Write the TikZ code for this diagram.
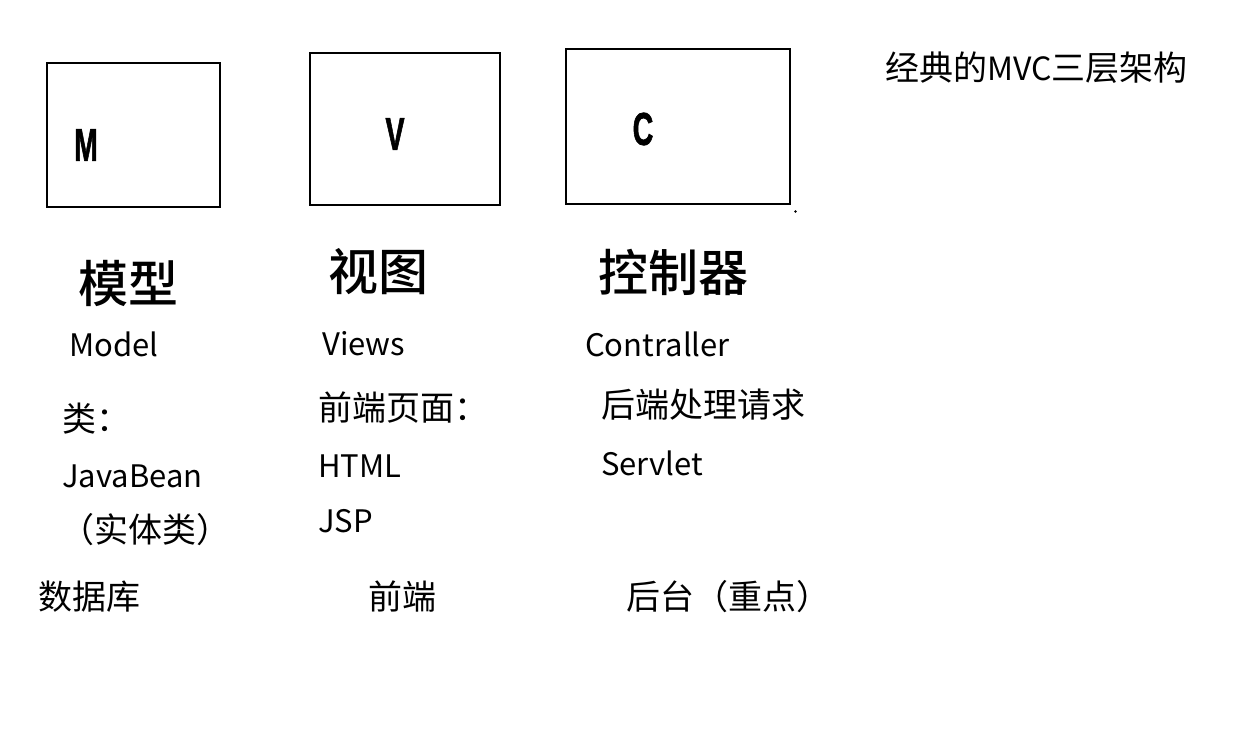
\documentclass[tikz,border=0pt]{standalone}
\usepackage{fontspec}
\setmainfont{Liberation Sans}
\newfontfamily\cjk{Noto Sans CJK SC}
\newfontfamily\cjkm{Noto Sans CJK SC Medium}
\newfontfamily\lsb[FakeBold=1.8]{Liberation Sans Bold}
\begin{document}
\begin{tikzpicture}[x=1pt,y=-1pt,
  box/.style={draw=black,line width=2.5pt},
  letter/.style={inner sep=0pt,font=\lsb\fontsize{46}{50}\selectfont},
  big/.style={inner sep=0pt,anchor=west,font=\cjkm\fontsize{50}{56}\selectfont},
  txt/.style={inner sep=0pt,anchor=west,font=\cjk\fontsize{34}{40}\selectfont},
  lat/.style={inner sep=0pt,anchor=west,font=\cjk\fontsize{31}{37}\selectfont}]
\useasboundingbox (0,0) rectangle (1233,747);
\fill[white] (0,0) rectangle (1233,747);
\draw[box] (47,63) rectangle (220,207);
\draw[box] (310,53) rectangle (500,205);
\draw[box] (566,49) rectangle (790,204);
\fill[black] (795.5,211.5) circle (1.3pt);
\node[letter] (m) at (86,145) {\scalebox{0.62}[1]{M}};
\node[letter] (v) at (395,134) {\scalebox{0.62}[1]{V}};
\node[letter] (c) at (643,129) {\scalebox{0.62}[1]{C}};
\node[txt] (title) at (885,68) {经典的{\fontsize{32}{36}\selectfont MVC}三层架构};
\node[big] (mx) at (78,283) {模型};
\node[big] (vt) at (328,272) {视图};
\node[big] (kz) at (598,272) {控制器};
\node[lat] (model) at (69,344) {Model};
\node[lat] (views) at (322,344) {Views};
\node[lat] (contr) at (585,344) {Contraller};
\node[txt] (lei) at (62,419) {类：};
\node[txt] (qd) at (318,408) {前端页面：};
\node[txt] (hd) at (601,405) {后端处理请求};
\node[lat] (jb) at (62,476) {JavaBean};
\node[lat] (html) at (318,466) {HTML};
\node[lat] (serv) at (601,463) {Servlet};
\node[txt] (stl) at (60,530) {（实体类）};
\node[lat] (jsp) at (318,521) {JSP};
\node[txt] (sjk) at (38,597) {数据库};
\node[txt] (qd2) at (368,597) {前端};
\node[txt] (ht) at (626,597) {后台（重点）};
\end{tikzpicture}
\end{document}
